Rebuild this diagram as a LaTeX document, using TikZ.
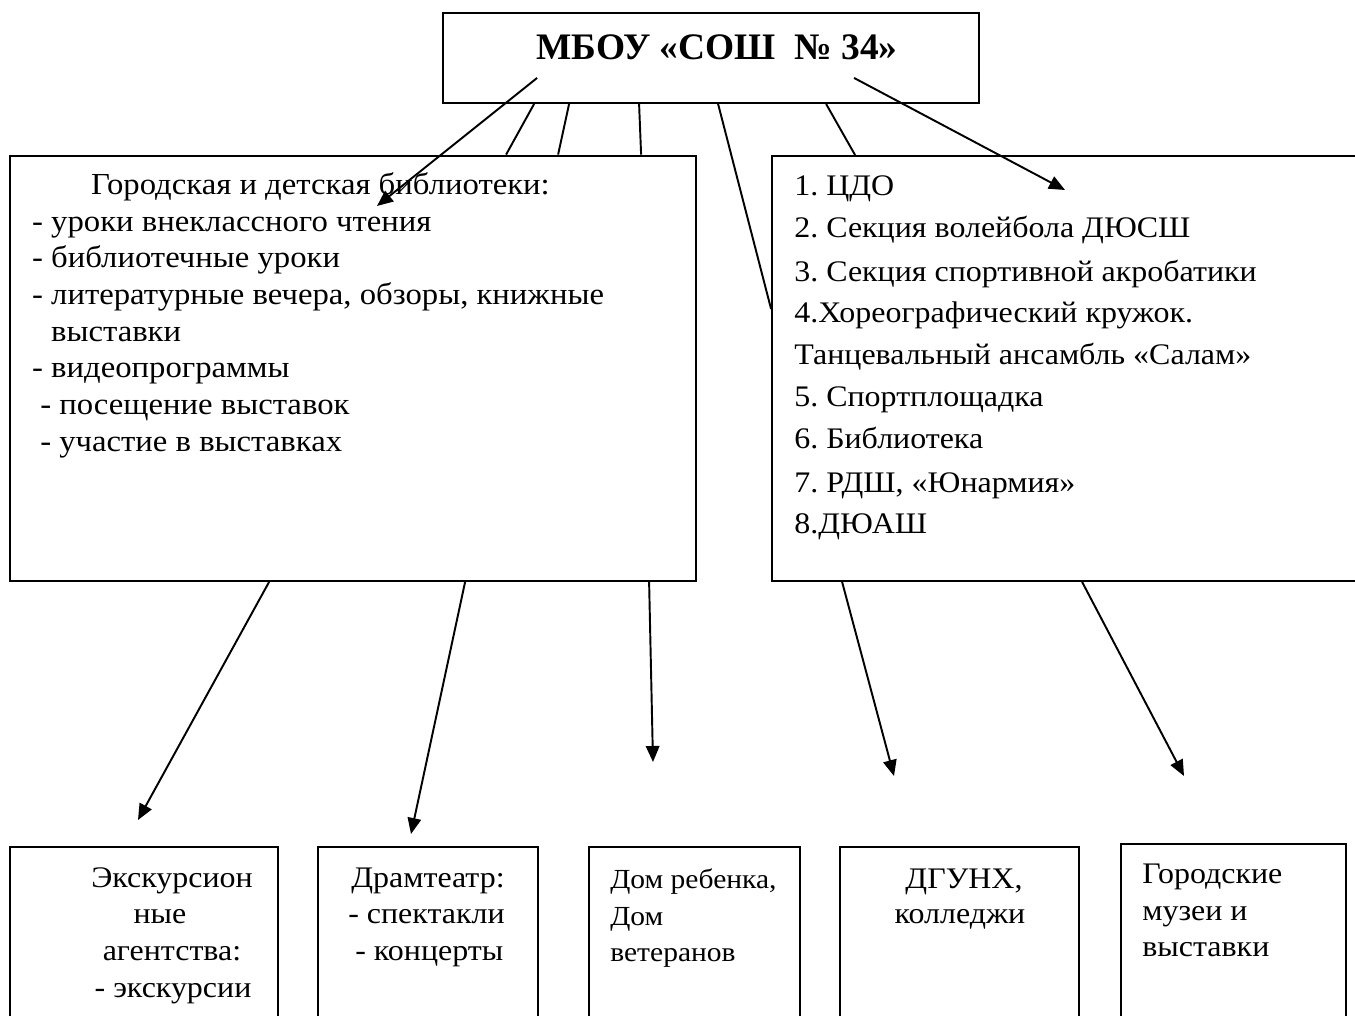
\documentclass[tikz,border=0pt]{standalone}
\usepackage{fontspec}
\setmainfont{Liberation Serif}[FakeStretch=1.07]
\newfontfamily\titlefont{Liberation Serif}
\usetikzlibrary{arrows.meta,calc}
\frenchspacing
\begin{document}
\frenchspacing
\begin{tikzpicture}[x=0.02cm,y=-0.02cm,
  box/.style={draw, line width=1.1pt, inner sep=0, rectangle},
  conn/.style={line width=1.1pt},
  arr/.style={conn, -{Triangle[length=0.32cm,width=0.27cm]}},
  txt/.style={inner sep=0, anchor=base west, font=\fontsize{17}{20}\selectfont},
  ltxt/.style={inner sep=0, anchor=base west, font=\fontsize{17.4}{20}\selectfont},
  ctxt/.style={inner sep=0, anchor=base, font=\fontsize{17}{20}\selectfont},
  stxt/.style={inner sep=0, anchor=base west, font=\fontsize{15.7}{19}\selectfont},
]
\useasboundingbox (0,0) rectangle (1355,1016);
\clip (0,0) rectangle (1355,1016);

% boxes
\node[box, minimum width=10.72cm, minimum height=1.8cm] (top) at (711,58) {};
\node[box, minimum width=13.72cm, minimum height=8.51cm] (left) at (353,368.25) {};
\node[box, minimum width=12.56cm, minimum height=8.5cm] (right) at (1086,368.5) {};
\node[box, minimum width=5.36cm, minimum height=3.66cm] (b1) at (144,938.5) {};
\node[box, minimum width=4.40cm, minimum height=3.66cm] (b2) at (428,938.5) {};
\node[box, minimum width=4.22cm, minimum height=3.66cm] (b3) at (694.5,938.5) {};
\node[box, minimum width=4.78cm, minimum height=3.66cm] (b4) at (959.5,938.5) {};
\node[box, minimum width=4.50cm, minimum height=3.72cm] (b5) at (1233.5,937) {};

% title
\node[inner sep=0, anchor=base, font=\titlefont\fontsize{21.3}{26}\selectfont\bfseries] (title) at (717,60) {МБОУ «СОШ~~№ 34»};

% left box text
\node[ltxt] (l1) at (90.7,195) {Городская и детская библиотеки:};
\node[ltxt] (l2) at (31.8,232) {- уроки внеклассного чтения};
\node[ltxt] (l3) at (31.8,268) {- библиотечные уроки};
\node[ltxt] (l4) at (31.8,305) {- литературные вечера, обзоры, книжные};
\node[ltxt] (l5) at (50.8,342) {выставки};
\node[ltxt] (l6) at (31.8,378) {- видеопрограммы};
\node[ltxt] (l7) at (39.9,415) {- посещение выставок};
\node[ltxt] (l8) at (39.9,452) {- участие в выставках};

% right box text
\node[txt] (r1) at (794,196) {1. ЦДО};
\node[txt] (r2) at (794,238) {2. Секция волейбола ДЮСШ};
\node[txt] (r3) at (794,282) {3. Секция спортивной акробатики};
\node[txt] (r4) at (794,323) {4.Хореографический кружок.};
\node[txt] (r5) at (794,365) {Танцевальный ансамбль «Салам»};
\node[txt] (r6) at (794,407) {5. Спортплощадка};
\node[txt] (r7) at (794,449) {6. Библиотека};
\node[txt] (r8) at (794,492) {7. РДШ, «Юнармия»};
\node[txt] (r9) at (794,533) {8.ДЮАШ};

% bottom box texts
\node[ctxt] (e1) at (172,887) {Экскурсион};
\node[ctxt] (e2) at (160,923) {ные};
\node[ctxt] (e3) at (172,960) {агентства:};
\node[ctxt] (e4) at (173,997) {- экскурсии};

\node[txt] (d1) at (351,887) {Драмтеатр:};
\node[txt] (d2) at (348,923) {- спектакли};
\node[txt] (d3) at (355,960) {- концерты};

\node[stxt] (h1) at (610,888) {Дом ребенка,};
\node[stxt] (h2) at (610,925) {Дом};
\node[stxt] (h3) at (610,961) {ветеранов};

\node[ctxt] (g1) at (964,888) {ДГУНХ,};
\node[ctxt] (g2) at (960,923) {колледжи};

\node[txt] (m1) at (1142,883) {Городские};
\node[txt] (m2) at (1142,920) {музеи и};
\node[txt] (m3) at (1142,956) {выставки};

% free arrow ends
\coordinate (t1) at (377,206);
\coordinate (t7) at (1065,190);
\coordinate (tb1) at (138,820);
\coordinate (tb2) at (411,834);
\coordinate (tb3) at (653,762);
\coordinate (tb4) at (894,776);
\coordinate (tb5) at (1184,776);

% connectors from top box
\draw[arr] ($(top.south west)+(95,-26)$) -- (t1);
\draw[conn] ($(top.south west)+(92,0)$) -- ($(left.north west)+(497,0)$);
\draw[conn] ($(top.south west)+(127,0)$) -- ($(left.north west)+(549,0)$);
\draw[conn] ($(top.south west)+(197,0)$) -- ($(left.north west)+(632,0)$);
\draw[conn] ($(top.south west)+(276,0)$) -- ($(right.north west)+(0,154)$);
\draw[conn] ($(top.south west)+(384,0)$) -- ($(right.north west)+(84,0)$);
\draw[arr] ($(top.south west)+(412,-26)$) -- (t7);

% connectors to bottom
\draw[arr] ($(left.south west)+(260,0)$) -- (tb1);
\draw[arr] ($(left.south west)+(456,0)$) -- (tb2);
\draw[arr] ($(left.south west)+(640,0)$) -- (tb3);
\draw[arr] ($(right.south west)+(71,0)$) -- (tb4);
\draw[arr] ($(right.south west)+(311,0)$) -- (tb5);
\end{tikzpicture}
\end{document}
